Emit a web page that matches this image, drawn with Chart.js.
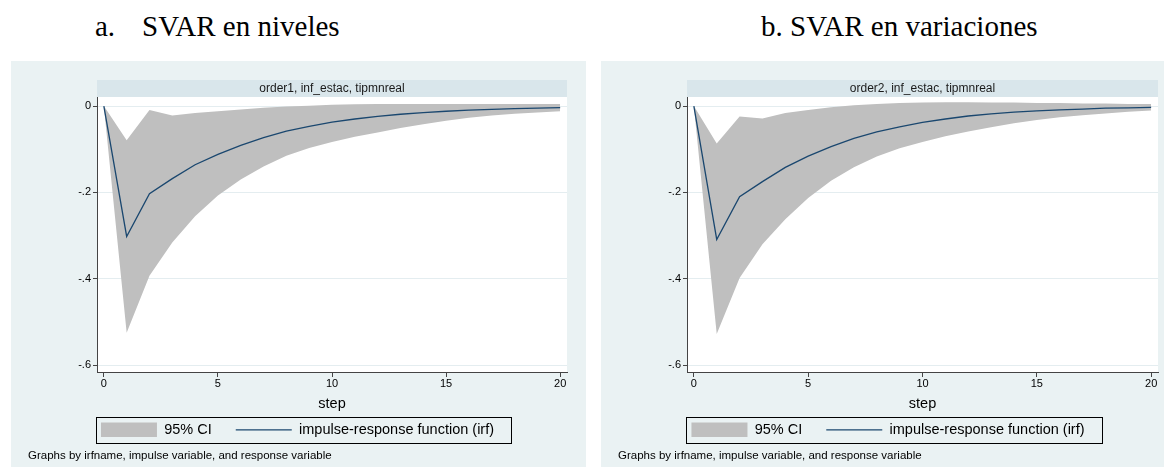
<!DOCTYPE html>
<html>
<head>
<meta charset="utf-8">
<script src="https://cdn.jsdelivr.net/npm/chart.js@4.4.1/dist/chart.umd.min.js"></script>
<style>
  body { margin: 0; background: #fff; width: 1167px; height: 471px; position: relative; overflow: hidden; }
  .head { position: absolute; top: 12px; font-family: "Liberation Serif", "Times New Roman", serif; font-size: 29px; line-height: 29px; color: #000; white-space: nowrap; }
  .panel { position: absolute; top: 61px; height: 406px; background: #eaf2f3; }
  .panel canvas { display: block; }
</style>
</head>
<body>
<div class="head" style="left:95px">a.</div>
<div class="head" style="left:142px">SVAR en niveles</div>
<div class="head" style="left:761px">b. SVAR en variaciones</div>
<div class="panel" style="left:11px;width:575px"><canvas id="levels" width="575" height="406"></canvas></div>
<div class="panel" style="left:601px;width:563px"><canvas id="variations" width="563" height="406"></canvas></div>
<script>
const steps = [0, 1, 2, 3, 4, 5, 6, 7, 8, 9, 10, 11, 12, 13, 14, 15, 16, 17, 18, 19, 20];
const xTicks = [0, 5, 10, 15, 20];
const yTicks = [0, -0.2, -0.4, -0.6];
const yTickLabels = ["0", "-.2", "-.4", "-.6"];

// a. SVAR en niveles
const irfLevels = [0, -0.302, -0.203, -0.168, -0.136, -0.112, -0.091, -0.073, -0.058, -0.047, -0.037, -0.030, -0.024, -0.019, -0.015, -0.012, -0.0095, -0.0076, -0.006, -0.0048, -0.0038];
const upperLevels = [0, -0.079, -0.009, -0.022, -0.016, -0.012, -0.008, -0.004, -0.001, 0.001, 0.003, 0.004, 0.005, 0.005, 0.005, 0.005, 0.005, 0.005, 0.005, 0.005, 0.005];
const lowerLevels = [0, -0.525, -0.393, -0.316, -0.255, -0.207, -0.170, -0.140, -0.115, -0.097, -0.083, -0.071, -0.061, -0.051, -0.042, -0.034, -0.027, -0.022, -0.018, -0.015, -0.012];

// b. SVAR en variaciones
const irfChanges = [0, -0.309, -0.210, -0.175, -0.142, -0.116, -0.094, -0.075, -0.060, -0.048, -0.038, -0.030, -0.023, -0.018, -0.014, -0.011, -0.009, -0.007, -0.005, -0.004, -0.003];
const upperChanges = [0, -0.087, -0.024, -0.029, -0.016, -0.009, -0.003, 0.002, 0.005, 0.007, 0.008, 0.009, 0.009, 0.008, 0.008, 0.007, 0.007, 0.006, 0.006, 0.005, 0.005];
const lowerChanges = [0, -0.528, -0.398, -0.320, -0.262, -0.213, -0.173, -0.142, -0.117, -0.098, -0.083, -0.070, -0.059, -0.049, -0.040, -0.032, -0.026, -0.021, -0.017, -0.013, -0.010];

Chart.defaults.font.family = '"Liberation Sans", Arial, Helvetica, sans-serif';
Chart.defaults.color = '#000';

// white plot region + header strip above it
const stripPlugin = {
  id: 'strip',
  beforeDraw(chart) {
    const { ctx, chartArea: a } = chart;
    ctx.save();
    ctx.fillStyle = '#ffffff';
    ctx.fillRect(a.left, a.top, a.right - a.left, a.bottom - a.top);
    ctx.fillStyle = '#d9e6eb';
    ctx.fillRect(a.left, a.top - 17, a.right - a.left, 17);
    ctx.restore();
  }
};

// black frame round the legend
const legendBoxPlugin = {
  id: 'legendBox',
  afterDraw(chart) {
    const boxes = chart.legend.legendHitBoxes;
    if (!boxes || !boxes.length) return;
    const first = boxes[0], last = boxes[boxes.length - 1];
    const x1 = Math.round(first.left - 5) + 0.5;
    const x2 = Math.round(last.left + last.width + 17) + 0.5;
    const y1 = Math.round(first.top - 6) + 0.5;
    const y2 = Math.round(first.top + first.height + 6) + 0.5;
    const ctx = chart.ctx;
    ctx.save();
    ctx.strokeStyle = '#000';
    ctx.lineWidth = 1;
    ctx.strokeRect(x1, y1, x2 - x1, y2 - y1);
    ctx.restore();
  }
};

function makeChart(id, strip, irf, upper, lower, padRight) {
  const pts = arr => steps.map((s, i) => ({ x: s, y: arr[i] }));
  return new Chart(document.getElementById(id), {
    type: 'line',
    data: {
      datasets: [
        { label: '95% CI', data: pts(upper), fill: '+1', backgroundColor: '#bfbfbf', borderColor: '#bfbfbf', borderWidth: 0, pointRadius: 0, pointStyle: 'rect', order: 2 },
        { label: 'lower', data: pts(lower), fill: false, borderWidth: 0, pointRadius: 0, order: 3 },
        { label: 'impulse-response function (irf)', data: pts(irf), fill: false, borderColor: '#1a476f', borderWidth: 1.3, pointRadius: 0, pointStyle: 'line', order: 1 }
      ]
    },
    options: {
      responsive: false,
      animation: false,
      devicePixelRatio: 1,
      layout: { padding: { left: 17, right: padRight, top: 0, bottom: 0 } },
      plugins: {
        title: {
          display: true, text: strip, fullSize: false,
          font: { size: 12, weight: 'normal' }, color: '#1a1a1a',
          padding: { top: 20.3, bottom: 1.3 }
        },
        subtitle: {
          display: true, text: 'Graphs by irfname, impulse variable, and response variable',
          position: 'bottom', align: 'start',
          font: { size: 11.5 }, color: '#000',
          padding: { top: 2, bottom: 4.1 }
        },
        legend: {
          position: 'bottom',
          labels: {
            usePointStyle: true, pointStyleWidth: 56, boxHeight: 14.5, padding: 24,
            font: { size: 14.5 }, color: '#000',
            filter: item => item.datasetIndex !== 1,
            sort: (a, b) => a.datasetIndex - b.datasetIndex
          }
        },
        tooltip: { enabled: false }
      },
      scales: {
        x: {
          type: 'linear', min: -0.3, max: 20.3,
          afterBuildTicks: s => { s.ticks = xTicks.map(v => ({ value: v })); },
          afterFit: s => { s.height = 26.6; },
          grid: { drawOnChartArea: false, tickLength: 5, tickColor: '#444' },
          border: { color: '#444' },
          ticks: { padding: 0, font: { size: 11 }, color: '#000', maxRotation: 0 },
          title: { display: true, text: 'step', font: { size: 14.5 }, color: '#000', padding: { top: 0, bottom: -14.1 } }
        },
        y: {
          min: -0.616, max: 0.021,
          afterBuildTicks: s => { s.ticks = yTicks.map(v => ({ value: v })); },
          afterFit: s => { s.width = 69; },
          grid: { color: '#e4edf0', tickColor: '#444', tickLength: 4 },
          border: { color: '#444' },
          ticks: { padding: 2, font: { size: 11 }, color: '#000', callback: v => yTickLabels[yTicks.indexOf(v)] }
        }
      }
    },
    plugins: [stripPlugin, legendBoxPlugin]
  });
}

makeChart('levels', 'order1, inf_estac, tipmnreal', irfLevels, upperLevels, lowerLevels, 19);
makeChart('variations', 'order2, inf_estac, tipmnreal', irfChanges, upperChanges, lowerChanges, 6);
</script>
</body>
</html>
